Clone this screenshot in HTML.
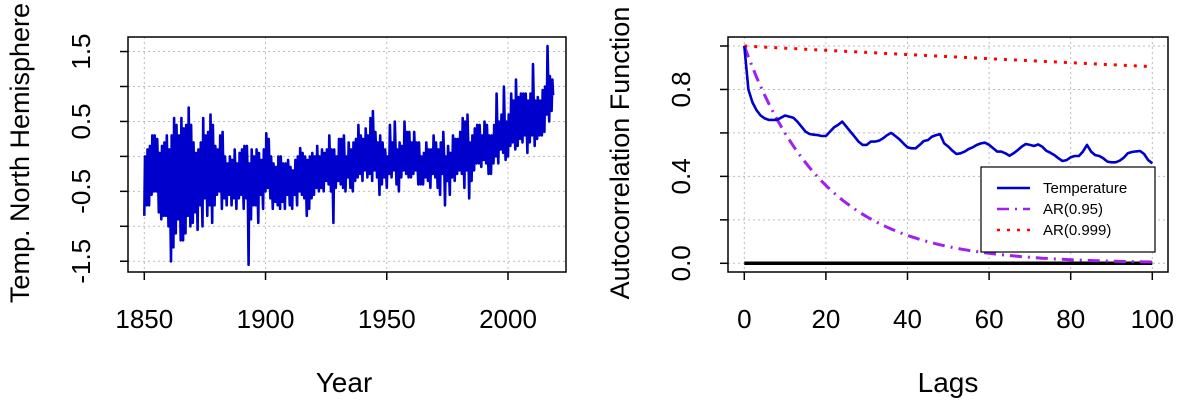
<!DOCTYPE html>
<html><head><meta charset="utf-8"><style>
html,body{margin:0;padding:0;background:#fff;}
svg{display:block;font-family:"Liberation Sans",Arial,sans-serif;}
</style></head><body>
<svg id="chart" width="1200" height="400" viewBox="0 0 1200 400">
<g id="left"></g>
<g id="right"></g>
</svg>
<script>
const years0 = 1850;
const tempHigh = [
0.0,0.1,0.15,0.3,0.3,0.25,0.05,0.15,0.2,0.3,
0.1,0.3,0.55,0.45,0.3,0.55,0.4,0.45,0.7,0.45,
0.2,0.05,0.1,0.2,0.55,0.3,0.35,0.6,0.45,0.15,
0.1,0.3,0.35,0.0,-0.1,0.0,-0.05,0.1,-0.1,0.05,
0.1,0.15,0.15,-0.1,0.1,0.0,0.1,0.05,-0.05,0.1,
0.33,0.25,0.0,-0.1,-0.15,0.0,0.0,-0.1,-0.1,-0.05,
-0.15,-0.2,-0.05,0.0,0.12,0.05,0.0,-0.05,0.0,0.05,
0.0,0.15,0.0,0.1,0.05,0.1,0.3,0.1,0.1,0.0,
0.25,0.25,0.3,0.0,0.2,0.1,0.2,0.25,0.45,0.3,
0.25,0.4,0.3,0.55,0.65,0.35,0.2,0.3,0.2,0.1,
0.0,0.45,0.2,0.5,0.1,0.2,0.15,0.5,0.35,0.35,
0.2,0.35,0.2,0.2,0.0,0.05,0.2,0.1,0.1,0.3,
0.2,0.1,0.2,0.35,0.0,0.15,0.05,0.3,0.25,0.25,
0.35,0.55,0.5,0.6,0.2,0.3,0.4,0.45,0.45,0.3,
0.5,0.45,0.3,0.3,0.45,0.9,0.5,0.6,1.0,0.5,
0.6,0.9,0.8,1.1,0.85,0.9,0.9,0.9,0.8,0.9,
1.32,0.8,0.85,0.8,0.95,1.0,1.58,1.15,1.1];
const tempLow = [
-0.85,-0.7,-0.7,-0.55,-0.5,-0.5,-0.8,-0.9,-0.85,-0.85,
-1.0,-1.5,-1.3,-1.1,-0.9,-1.2,-1.2,-1.1,-0.85,-1.0,
-0.95,-0.8,-1.05,-0.7,-1.0,-0.6,-0.85,-0.7,-0.95,-0.7,
-0.55,-0.5,-0.75,-0.6,-0.7,-0.55,-0.7,-0.6,-0.75,-0.6,
-0.55,-0.75,-0.6,-1.55,-0.9,-0.7,-0.7,-0.95,-0.55,-0.75,
-0.5,-0.45,-0.6,-0.75,-0.65,-0.7,-0.75,-0.65,-0.75,-0.55,
-0.7,-0.75,-0.55,-0.7,-0.5,-0.55,-0.6,-0.85,-0.75,-0.6,
-0.55,-0.45,-0.5,-0.45,-0.5,-0.35,-0.4,-0.5,-0.95,-0.45,
-0.35,-0.4,-0.45,-0.5,-0.3,-0.45,-0.5,-0.35,-0.3,-0.25,
-0.35,-0.2,-0.3,-0.25,-0.35,-0.2,-0.3,-0.55,-0.4,-0.3,
-0.45,-0.25,-0.3,-0.2,-0.4,-0.5,-0.3,-0.2,-0.25,-0.3,
-0.3,-0.25,-0.2,-0.4,-0.4,-0.4,-0.3,-0.35,-0.45,-0.25,
-0.3,-0.45,-0.55,-0.25,-0.7,-0.35,-0.55,-0.3,-0.35,-0.25,
-0.2,-0.25,-0.45,-0.2,-0.6,-0.35,-0.2,-0.1,-0.1,-0.15,
-0.05,-0.1,-0.25,-0.25,-0.1,0.0,-0.1,0.1,0.05,-0.05,
0.0,0.15,0.2,0.1,0.15,0.25,0.2,0.3,0.05,0.2,
0.3,0.15,0.25,0.3,0.3,0.35,0.6,0.5,0.65];
const leftXTicks = [1850,1900,1950,2000];
const leftYTicks = [-1.5,-1,-0.5,0,0.5,1,1.5];
const leftYLabels = ["-1.5","","-0.5","","0.5","","1.5"];

const acfTemp = [1.00,0.80,0.74,0.705,0.68,0.667,0.66,0.66,0.66,0.67,
0.68,0.675,0.67,0.652,0.629,0.606,0.595,0.592,0.590,0.586,
0.586,0.606,0.626,0.637,0.652,0.629,0.606,0.583,0.560,0.545,
0.545,0.560,0.560,0.564,0.575,0.590,0.60,0.586,0.571,0.552,
0.534,0.529,0.529,0.545,0.563,0.567,0.583,0.590,0.594,0.552,
0.537,0.518,0.503,0.506,0.514,0.526,0.534,0.545,0.552,0.555,
0.545,0.529,0.514,0.514,0.506,0.495,0.506,0.521,0.537,0.549,
0.545,0.54,0.547,0.537,0.518,0.509,0.498,0.483,0.471,0.475,
0.488,0.494,0.494,0.514,0.545,0.514,0.498,0.494,0.483,0.468,
0.465,0.465,0.472,0.486,0.506,0.512,0.515,0.517,0.503,0.475,0.46];
const arPhis = [0.95, 0.999];
const rightXTicks = [0,20,40,60,80,100];
const rightYTicks = [0,0.2,0.4,0.6,0.8,1.0];
const rightYLabels = ["0.0","","0.4","","0.8",""];
const legendLabels = ["Temperature","AR(0.95)","AR(0.999)"];

const NS="http://www.w3.org/2000/svg";
function mk(parent, tag, attrs){const e=document.createElementNS(NS,tag);for(const k in attrs)e.setAttribute(k,attrs[k]);parent.appendChild(e);return e;}

// LEFT PANEL
const L=document.getElementById('left');
const lx=y=>144.3+(y-1850)*(508-144.3)/150;
const ly=v=>156.4-v*69.9;
const lbox={x0:128,x1:566,y0:37,y1:272};
leftXTicks.forEach(t=>{const g=mk(L,'line',{x1:lx(t),x2:lx(t),y1:lbox.y0,y2:lbox.y1,stroke:'#bbb','stroke-dasharray':'2,3','stroke-width':1});

});
leftYTicks.forEach(t=>{const g=mk(L,'line',{x1:lbox.x0,x2:lbox.x1,y1:ly(t),y2:ly(t),stroke:'#bbb','stroke-dasharray':'2,3','stroke-width':1});

});
let pts=[];
for(let i=0;i<tempHigh.length;i++){const yr=years0+i;pts.push(lx(yr).toFixed(1)+','+ly(tempLow[i]).toFixed(1));pts.push(lx(yr+0.3).toFixed(1)+','+ly(tempHigh[i]).toFixed(1));pts.push(lx(yr+0.6).toFixed(1)+','+ly((tempLow[i]+tempHigh[i])/2).toFixed(1));}
const tl=mk(L,'polyline',{points:pts.join(' '),fill:'none',stroke:'#0000cd','stroke-width':2.6,'stroke-linejoin':'round'});


const lb=mk(L,'rect',{x:lbox.x0,y:lbox.y0,width:lbox.x1-lbox.x0,height:lbox.y1-lbox.y0,fill:'none',stroke:'#000','stroke-width':1.5});


leftXTicks.forEach(t=>{mk(L,'line',{x1:lx(t),x2:lx(t),y1:lbox.y1,y2:lbox.y1+8,stroke:'#000','stroke-width':1.5});
const tx=mk(L,'text',{x:lx(t),y:328,'font-size':26,'text-anchor':'middle',fill:'#000'});tx.textContent=t;

});
leftYTicks.forEach((t,i)=>{mk(L,'line',{x1:lbox.x0-8,x2:lbox.x0,y1:ly(t),y2:ly(t),stroke:'#000','stroke-width':1.5});
if(leftYLabels[i]){const tx=mk(L,'text',{x:0,y:0,'font-size':26,'text-anchor':'middle',fill:'#000',transform:`translate(90,${ly(t)}) rotate(-90)`});tx.textContent=leftYLabels[i];

}});
let t1=mk(L,'text',{x:344,y:392,'font-size':28,'text-anchor':'middle'});t1.textContent='Year';


t1=mk(L,'text',{x:0,y:0,'font-size':27,'text-anchor':'middle',transform:'translate(29,153) rotate(-90)'});t1.textContent='Temp. North Hemisphere';



// RIGHT PANEL
const R=document.getElementById('right');
const rx=k=>744.3+k*4.08;
const ry=v=>263.3-v*217.3;
const rbox={x0:728,x1:1168,y0:37,y1:272};
rightXTicks.forEach(t=>{const g=mk(R,'line',{x1:rx(t),x2:rx(t),y1:rbox.y0,y2:rbox.y1,stroke:'#bbb','stroke-dasharray':'2,3','stroke-width':1});

});
rightYTicks.forEach(t=>{const g=mk(R,'line',{x1:rbox.x0,x2:rbox.x1,y1:ry(t),y2:ry(t),stroke:'#bbb','stroke-dasharray':'2,3','stroke-width':1});

});
let zl=mk(R,'line',{x1:rx(0),x2:rx(100),y1:ry(0),y2:ry(0),stroke:'#000','stroke-width':3.5});


const arStyles=[{c:'#a020f0',d:'12,6,2,6',w:3},{c:'#ff0000',d:'3,7',w:3}];
arPhis.forEach((phi,j)=>{let p=[];for(let k=0;k<=100;k++)p.push(rx(k).toFixed(1)+','+ry(Math.pow(phi,k)).toFixed(1));
const pl=mk(R,'polyline',{points:p.join(' '),fill:'none',stroke:arStyles[j].c,'stroke-width':arStyles[j].w,'stroke-dasharray':arStyles[j].d});

});
let p2=acfTemp.map((v,k)=>rx(k).toFixed(1)+','+ry(v).toFixed(1));
const al=mk(R,'polyline',{points:p2.join(' '),fill:'none',stroke:'#0000cd','stroke-width':2.6,'stroke-linejoin':'round'});


const rb=mk(R,'rect',{x:rbox.x0,y:rbox.y0,width:rbox.x1-rbox.x0,height:rbox.y1-rbox.y0,fill:'none',stroke:'#000','stroke-width':1.5});


rightXTicks.forEach(t=>{mk(R,'line',{x1:rx(t),x2:rx(t),y1:rbox.y1,y2:rbox.y1+8,stroke:'#000','stroke-width':1.5});
const tx=mk(R,'text',{x:rx(t),y:328,'font-size':26,'text-anchor':'middle'});tx.textContent=t;

});
rightYTicks.forEach((t,i)=>{mk(R,'line',{x1:rbox.x0-8,x2:rbox.x0,y1:ry(t),y2:ry(t),stroke:'#000','stroke-width':1.5});
if(rightYLabels[i]){const tx=mk(R,'text',{x:0,y:0,'font-size':26,'text-anchor':'middle',transform:`translate(690,${ry(t)}) rotate(-90)`});tx.textContent=rightYLabels[i];

}});
t1=mk(R,'text',{x:948,y:392,'font-size':28,'text-anchor':'middle'});t1.textContent='Lags';


t1=mk(R,'text',{x:0,y:0,'font-size':27,'text-anchor':'middle',transform:'translate(629,153) rotate(-90)'});t1.textContent='Autocorrelation Function';


// legend
const lg=mk(R,'g',{});


mk(lg,'rect',{x:981,y:167,width:174,height:85,fill:'#fff',stroke:'#000','stroke-width':1.2});
const legStyles=[{c:'#0000cd',d:'none'},{c:'#a020f0',d:'12,6,2,6'},{c:'#ff0000',d:'3,7'}];
legendLabels.forEach((s,i)=>{const y=188+i*21;
const ln=mk(lg,'line',{x1:997,x2:1030,y1:y,y2:y,stroke:legStyles[i].c,'stroke-width':2.6,'stroke-dasharray':legStyles[i].d});


const tx=mk(lg,'text',{x:1043,y:y+5,'font-size':15});tx.textContent=s;

});
</script>
</body></html>
